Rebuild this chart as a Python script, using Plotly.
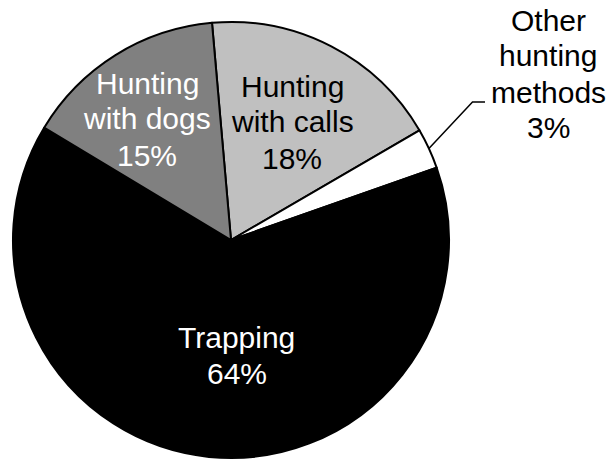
import math
import plotly.graph_objects as go

# Share of harvest by method (percent), drawn clockwise from the top
categories = ["Hunting with calls", "Other hunting methods", "Trapping", "Hunting with dogs"]
values = [18, 3, 64, 15]
label_lines = {
    "Hunting with calls": ["Hunting", "with calls"],
    "Other hunting methods": ["Other", "hunting", "methods"],
    "Trapping": ["Trapping"],
    "Hunting with dogs": ["Hunting", "with dogs"],
}

# Styling / layout
W, H = 613, 461
colors = ["#C0C0C0", "#FFFFFF", "#000000", "#808080"]
text_colors = ["#000000", "#000000", "#FFFFFF", "#FFFFFF"]
CX, CY, R = 231, 240, 218          # pie centre and radius in pixels
ROTATION = -5
FONT = "Liberation Sans, Arial, sans-serif"
FS = 30
LINE_GAP = 36
# block centre (pixels) for each label
label_centres = [(292, 122), (548, 74), (236.5, 355), (147, 119)]
LEADER_ELBOW = (472.5, 102)
LEADER_END = (485, 102)


def px(x, y):
    return x / W, (H - y) / H


fig = go.Figure(
    go.Pie(
        labels=categories,
        values=values,
        sort=False,
        direction="clockwise",
        rotation=ROTATION,
        textinfo="none",
        hoverinfo="label+percent",
        marker=dict(colors=colors, line=dict(color="#000000", width=2)),
        domain=dict(x=[(CX - R) / W, (CX + R) / W], y=[(H - CY - R) / H, (H - CY + R) / H]),
        showlegend=False,
    )
)

total = sum(values)
annotations = []
for cat, val, tc, (bx, by) in zip(categories, values, text_colors, label_centres):
    lines = label_lines[cat] + [f"{round(100 * val / total)}%"]
    n = len(lines)
    for i, line in enumerate(lines):
        yy = by + (i - (n - 1) / 2) * LINE_GAP
        x, y = px(bx, yy)
        annotations.append(
            dict(
                x=x, y=y, xref="paper", yref="paper",
                text=line, showarrow=False,
                xanchor="center", yanchor="middle",
                font=dict(family=FONT, size=FS, color=tc),
            )
        )

# Leader line for the small slice, starting on the rim at the slice mid-angle
idx = categories.index("Other hunting methods")
before = sum(values[:idx])
mid_deg = ROTATION + (before + values[idx] / 2) / total * 360
a = math.radians(mid_deg)
sx, sy = CX + R * math.sin(a), CY - R * math.cos(a)
p0, p1, p2 = px(sx, sy), px(*LEADER_ELBOW), px(*LEADER_END)
shapes = [
    dict(
        type="path", xref="paper", yref="paper",
        path=f"M {p0[0]},{p0[1]} L {p1[0]},{p1[1]} L {p2[0]},{p2[1]}",
        line=dict(color="#000000", width=1.5),
    )
]

fig.update_layout(
    width=W, height=H,
    margin=dict(l=0, r=0, t=0, b=0),
    paper_bgcolor="#FFFFFF",
    plot_bgcolor="#FFFFFF",
    annotations=annotations,
    shapes=shapes,
)

fig.write_html("out.html")
